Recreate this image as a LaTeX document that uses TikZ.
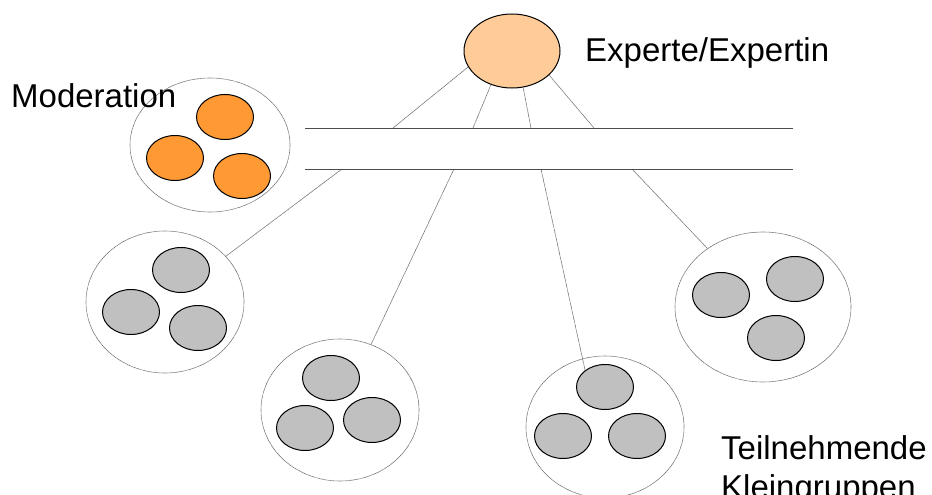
\documentclass[tikz,border=0pt]{standalone}
\usepackage{fontspec}
\setmainfont{Liberation Sans}
\usetikzlibrary{shapes.geometric}
\definecolor{expertfill}{HTML}{FFCC99}
\definecolor{modfill}{HTML}{FF9933}
\definecolor{memberfill}{HTML}{C0C0C0}
\begin{document}
\begin{tikzpicture}[x=1pt, y=-1pt,
    group/.style ={ellipse, draw=gray!60!black, line width=0.6pt, dash pattern=on 0.5pt off 0.5pt, minimum width=158pt, minimum height=142pt, inner sep=0pt},
    person/.style ={ellipse, draw, line width=1pt, minimum width=57pt, minimum height=45pt, inner sep=0pt},
    member/.style ={person, fill=memberfill},
    link/.style ={draw=gray!60!black, line width=0.6pt, dash pattern=on 0.5pt off 0.5pt},
    nametext/.style ={inner sep=0pt, font=\fontsize{33}{39}\selectfont}]
   \useasboundingbox (0,0) rectangle (932,495);

   % Experte
   \node[person, fill=expertfill, minimum width=96pt, minimum height=74pt] (E) at (512,51) {};
   \node[nametext, anchor=base west] (Ename) at (585,62) {Experte/Expertin};

   % Moderation
   \node[group, minimum width=160pt, minimum height=134pt] (M) at (210,145) {};
   \node[person, fill=modfill] (M1) at (225,117) {};
   \node[person, fill=modfill] (M2) at (175,158) {};
   \node[person, fill=modfill] (M3) at (242,176) {};
   \node[nametext, anchor=base west] (Mname) at (11,107) {Moderation};

   % Kleingruppen
   \node[group] (G1) at (165,302) {};
   \node[member] (G1a) at (181,270) {};
   \node[member] (G1b) at (131,312) {};
   \node[member] (G1c) at (198,328) {};

   \node[group] (G2) at (340,410) {};
   \node[member] (G2a) at (331,378) {};
   \node[member] (G2b) at (305,428) {};
   \node[member] (G2c) at (372,420) {};

   \node[group] (G3) at (605,427) {};
   \node[member] (G3a) at (605,387) {};
   \node[member] (G3b) at (563,436) {};
   \node[member] (G3c) at (637,436) {};

   \node[group, minimum width=176pt, minimum height=150pt] (G4) at (763,307) {};
   \node[member] (G4a) at (721,295) {};
   \node[member] (G4b) at (795,279) {};
   \node[member] (G4c) at (776,338) {};

   \node[nametext, anchor=north west, align=left] (Gname) at (721,435) {Teilnehmende\\Kleingruppen};

   % Kanal
   \coordinate (A1) at (305,128);
   \coordinate (A2) at (793,128);
   \coordinate (B1) at (305,169);
   \coordinate (B2) at (793,169);
   \coordinate (U1) at (393,128);
   \coordinate (U2) at (473,128);
   \coordinate (U3) at (531,128);
   \coordinate (U4) at (594,128);
   \coordinate (D1) at (342,169);
   \coordinate (D2) at (454,169);
   \coordinate (D3) at (541,169);
   \coordinate (D4) at (632,169);

   \draw[link] (A1) to (A2);
   \draw[link] (B1) to (B2);
   \draw[link] (E.200) to (U1);
   \draw[link] (E.238) to (U2);
   \draw[link] (E.287) to (U3);
   \draw[link] (E.327) to (U4);
   \draw[link] (D1) to (G1);
   \draw[link] (D2) to (G2);
   \draw[link] (D3) to (G3a.140);
   \draw[link] (D4) to (G4);
 \end{tikzpicture}
\end{document}
